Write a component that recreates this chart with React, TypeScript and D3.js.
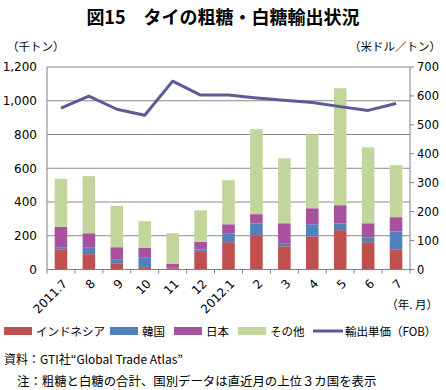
import React, { useEffect, useRef } from 'react';
import * as d3 from 'd3';

const months = ['2011.7', '8', '9', '10', '11', '12', '2012.1', '2', '3', '4', '5', '6', '7'];
const indonesia = [120, 91, 37, 14, 8, 109, 162, 201, 138, 197, 233, 162, 120];
const korea = [12, 41, 24, 59, 2, 9, 53, 71, 18, 71, 39, 26, 105];
const japan = [121, 83, 71, 55, 24, 46, 53, 56, 118, 95, 109, 86, 85];
const others = [284, 338, 245, 158, 181, 187, 261, 503, 385, 438, 693, 450, 308];
const price = [558, 599, 554, 533, 651, 603, 603, 593, 585, 577, 563, 550, 574];

const seriesNames = ['インドネシア', '韓国', '日本', 'その他'];
const colors = ['#C0504D', '#4F81BD', '#A9519F', '#C2D69B'];
const lineColor = '#5B5B9A';
const leftTicks = [0, 200, 400, 600, 800, 1000, 1200];
const rightTicks = [0, 100, 200, 300, 400, 500, 600, 700];

const jp = "'Noto Sans CJK JP', 'Noto Sans', sans-serif";
const num = "'DejaVu Sans', 'Noto Sans CJK JP', sans-serif";

const App = () => {
  const ref = useRef<SVGSVGElement>(null);

  useEffect(() => {
    if (!ref.current) return;
    const width = 446;
    const left = 47;
    const right = 410;
    const top = 67;
    const bottom = 269.5;

    const svg = d3.select(ref.current);
    svg.selectAll('*').remove();

    const x = d3.scaleBand().domain(months).range([left, right]).paddingInner(0.55).paddingOuter(0.275);
    const step = (right - left) / months.length;
    const yL = d3.scaleLinear().domain([0, 1200]).range([bottom, top]);
    const yR = d3.scaleLinear().domain([0, 700]).range([bottom, top]);

    // title
    svg.append('text')
      .attr('x', width / 2).attr('y', 24)
      .attr('text-anchor', 'middle')
      .attr('font-family', jp).attr('font-size', 18).attr('font-weight', 'bold')
      .text('図15　タイの粗糖・白糖輸出状況');

    svg.append('text').attr('x', 7).attr('y', 51)
      .attr('font-family', jp).attr('font-size', 11.5).text('（千トン）');
    svg.append('text').attr('x', 441).attr('y', 51).attr('text-anchor', 'end')
      .attr('font-family', jp).attr('font-size', 11.5).text('（米ドル／トン）');

    // grid
    svg.append('g').selectAll('line').data(leftTicks.slice(1)).join('line')
      .attr('x1', left).attr('x2', right)
      .attr('y1', d => yL(d)).attr('y2', d => yL(d))
      .attr('stroke', '#8a8a8a').attr('stroke-width', 1);

    // bars
    const rows = months.map((m, i) => ({ m, a: indonesia[i], b: korea[i], c: japan[i], d: others[i] }));
    const stack = d3.stack<any>().keys(['a', 'b', 'c', 'd'])(rows);
    svg.append('g').selectAll('g').data(stack).join('g')
      .attr('fill', (_d, i) => colors[i])
      .selectAll('rect').data(d => d).join('rect')
      .attr('x', d => x(d.data.m)!)
      .attr('width', x.bandwidth())
      .attr('y', d => yL(d[1]))
      .attr('height', d => yL(d[0]) - yL(d[1]));

    // axes
    const axisColor = '#808080';
    svg.append('line').attr('x1', left).attr('x2', left).attr('y1', top).attr('y2', bottom)
      .attr('stroke', axisColor);
    svg.append('line').attr('x1', right).attr('x2', right).attr('y1', top).attr('y2', bottom)
      .attr('stroke', axisColor);
    svg.append('line').attr('x1', left).attr('x2', right + 4).attr('y1', bottom).attr('y2', bottom)
      .attr('stroke', axisColor);
    svg.append('g').selectAll('line').data(d3.range(months.length + 1)).join('line')
      .attr('x1', i => left + i * step).attr('x2', i => left + i * step)
      .attr('y1', bottom).attr('y2', bottom + 4)
      .attr('stroke', axisColor);
    svg.append('g').selectAll('line').data(rightTicks).join('line')
      .attr('x1', right).attr('x2', right + 4)
      .attr('y1', d => yR(d)).attr('y2', d => yR(d))
      .attr('stroke', axisColor);

    svg.append('g').selectAll('text').data(leftTicks).join('text')
      .attr('x', 37).attr('y', d => yL(d)).attr('dy', '0.36em')
      .attr('text-anchor', 'end').attr('font-family', num).attr('font-size', 12)
      .text(d => d3.format(',')(d));
    svg.append('g').selectAll('text').data(rightTicks).join('text')
      .attr('x', 417).attr('y', d => yR(d)).attr('dy', '0.36em')
      .attr('font-family', num).attr('font-size', 11.5)
      .text(d => d);

    svg.append('g').selectAll('text').data(months).join('text')
      .attr('transform', d => `translate(${x(d)! + x.bandwidth() / 2 + 4},${bottom + 12}) rotate(-45)`)
      .attr('text-anchor', 'end').attr('dy', '0.35em')
      .attr('font-family', num).attr('font-size', 12)
      .text(d => d);

    svg.append('text').attr('x', 438).attr('y', 309).attr('text-anchor', 'end')
      .attr('font-family', jp).attr('font-size', 11.5).text('（年. 月）');

    // price line
    const line = d3.line<number>()
      .x((_d, i) => x(months[i])! + x.bandwidth() / 2)
      .y(d => yR(d));
    svg.append('path').datum(price)
      .attr('d', line)
      .attr('fill', 'none').attr('stroke', lineColor).attr('stroke-width', 3)
      .attr('stroke-linejoin', 'round');

    // legend
    const legX = [4, 110, 174, 238];
    const lg = svg.append('g');
    seriesNames.forEach((n, i) => {
      lg.append('rect').attr('x', legX[i]).attr('y', 327).attr('width', 28).attr('height', 8)
        .attr('fill', colors[i]);
      lg.append('text').attr('x', legX[i] + 32).attr('y', 335.5)
        .attr('font-family', jp).attr('font-size', 11.5).text(n);
    });
    lg.append('line').attr('x1', 313).attr('x2', 343).attr('y1', 331).attr('y2', 331)
      .attr('stroke', lineColor).attr('stroke-width', 3);
    lg.append('text').attr('x', 345).attr('y', 335.5)
      .attr('font-family', jp).attr('font-size', 11.5).text('輸出単価（FOB）');

    // notes
    svg.append('text').attr('x', 4).attr('y', 364)
      .attr('font-family', jp).attr('font-size', 12).text('資料：GTI社“Global Trade Atlas”');
    svg.append('text').attr('x', 17).attr('y', 386)
      .attr('font-family', jp).attr('font-size', 12.4).text('注：粗糖と白糖の合計、国別データは直近月の上位３カ国を表示');
  }, []);

  return (
    <svg
      ref={ref}
      width={446}
      height={390}
      style={{ position: 'absolute', left: 0, top: 0, background: '#fff' }}
    />
  );
};

export default App;
